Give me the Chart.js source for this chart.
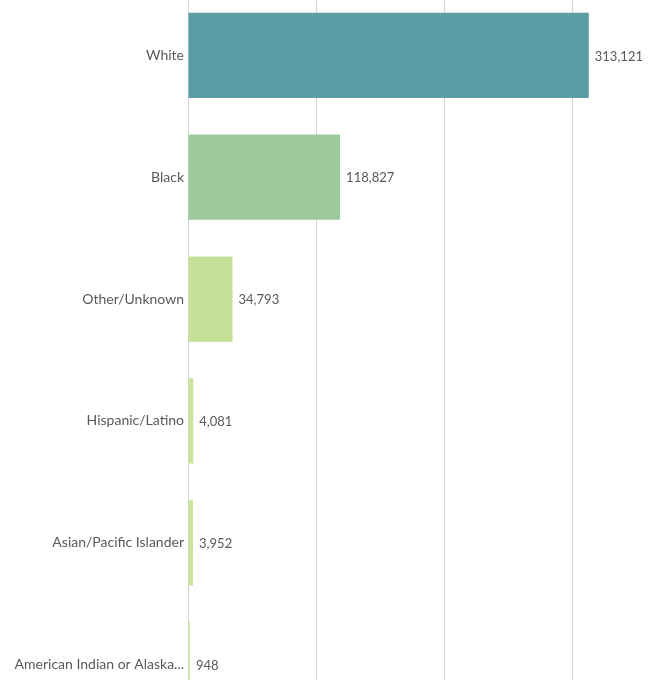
<!DOCTYPE html>
<html>
<head>
<meta charset="utf-8">
<script src="https://cdn.jsdelivr.net/npm/chart.js@4/dist/chart.umd.min.js"></script>
<style>
  html, body { margin: 0; padding: 0; background: #fff; overflow: hidden; }
  #wrap { position: relative; width: 651px; height: 680px; overflow: hidden; }
  #inner { position: absolute; left: 0; top: -18px; width: 651px; height: 756px; }
</style>
</head>
<body>
<div id="wrap"><div id="inner"><canvas id="race_bar"></canvas></div></div>
<script>
// values
var races = ['White', 'Black', 'Other/Unknown', 'Hispanic/Latino', 'Asian/Pacific Islander', 'American Indian or Alaska Native'];
var counts = [313121, 118827, 34793, 4081, 3952, 948];
var gridValues = [0, 100000, 200000, 300000];
var barColors = ['#5b9da5', '#9dcb9b', '#c3e197', '#c8e59b', '#c8e59b', '#cbe6a0'];

var textColor = '#595959';
var fontFamily = 'Lato, "Open Sans", sans-serif';

// draws the value right after each bar end
var valueLabels = {
    id: 'valueLabels',
    afterDatasetsDraw: function(chart){
        var ctx = chart.ctx;
        ctx.save();
        ctx.font = '13px ' + fontFamily;
        ctx.fillStyle = textColor;
        ctx.textBaseline = 'middle';
        ctx.textAlign = 'left';
        chart.getDatasetMeta(0).data.forEach(function(bar, i){
            ctx.fillText(counts[i].toLocaleString('en-US'), bar.x + 6, bar.y + 1);
        });
        ctx.restore();
    }
};

var graph = new Chart(document.getElementById('race_bar'), {
    type: 'bar',
    data: {
        labels: races,
        datasets: [{
            data: counts,
            backgroundColor: barColors,
            borderWidth: 0,
            categoryPercentage: 1,
            barPercentage: 0.7,
            minBarLength: 2
        }]
    },
    options: {
        indexAxis: 'y',
        responsive: true,
        maintainAspectRatio: false,
        animation: false,
        layout: { padding: { left: 0, right: 15, top: 0, bottom: 0 } },
        plugins: {
            legend: { display: false },
            tooltip: { enabled: false }
        },
        scales: {
            x: {
                min: 0,
                max: 350000,
                afterBuildTicks: function(scale){
                    scale.ticks = gridValues.map(function(v){ return { value: v }; });
                },
                ticks: { display: false },
                grid: { drawTicks: false, color: '#d4d4d4' },
                border: { display: false }
            },
            y: {
                grid: { display: false, drawTicks: false },
                border: { display: false },
                afterFit: function(scale){ scale.width = 188; },
                ticks: {
                    padding: 4,
                    color: textColor,
                    font: { family: fontFamily, size: 14 },
                    callback: function(v, i){
                        var s = races[i];
                        return s.length > 26 ? s.slice(0, 25) + '...' : s;
                    }
                }
            }
        }
    },
    plugins: [valueLabels]
});
</script>
</body>
</html>
